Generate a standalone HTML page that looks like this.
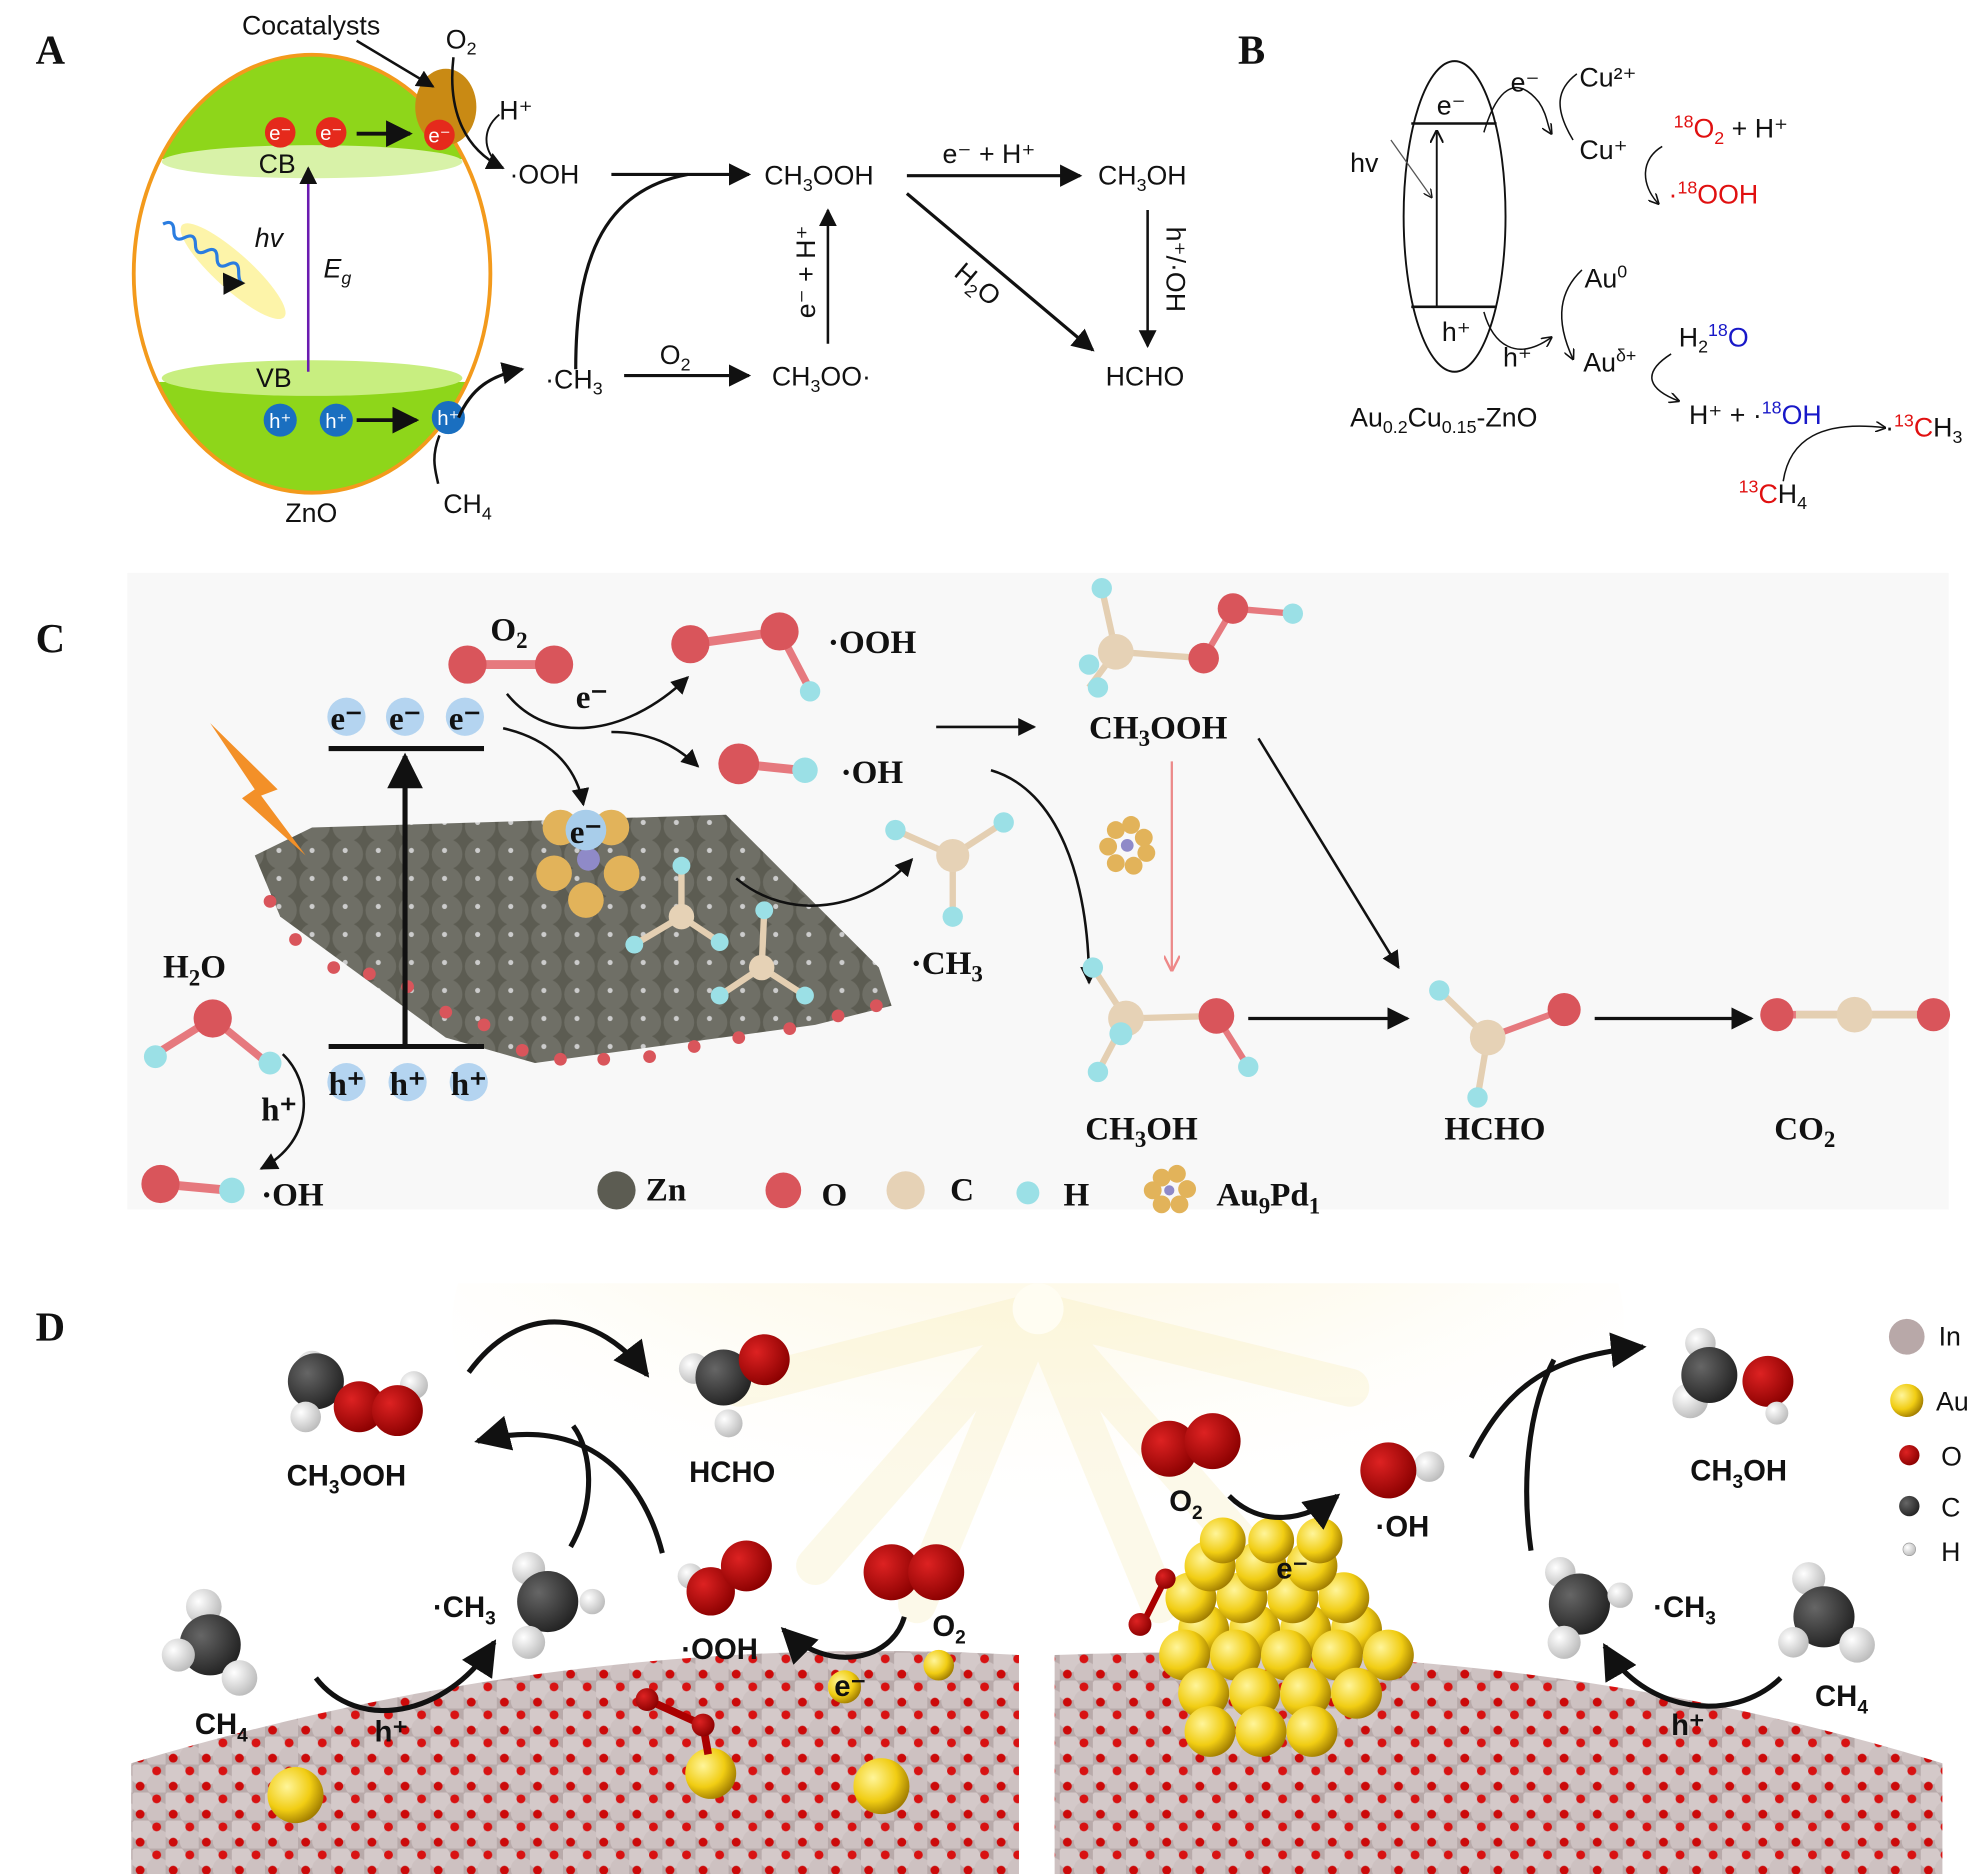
<!DOCTYPE html>
<html><head><meta charset="utf-8"><style>
html,body{margin:0;padding:0;background:#fff}
svg{display:block}
.s{font-family:"Liberation Sans",sans-serif;font-size:21px;fill:#111}
.r{font-family:"Liberation Serif",serif;font-weight:bold;font-size:26px;fill:#111}
.b{font-family:"Liberation Sans",sans-serif;font-weight:bold;font-size:23px;fill:#111}
.L{font-family:"Liberation Serif",serif;font-weight:bold;font-size:32px;fill:#111}
</style></head><body>
<svg width="1987" height="1874" viewBox="0 0 1560 1472" preserveAspectRatio="none" xmlns="http://www.w3.org/2000/svg">
<defs>
<marker id="ah" viewBox="0 0 10 10" refX="9" refY="5" markerWidth="7" markerHeight="7" orient="auto"><path d="M0,0L10,5L0,10z" fill="#111"/></marker>
<marker id="ao" viewBox="0 0 10 10" refX="9" refY="5" markerWidth="7" markerHeight="7" orient="auto"><path d="M0,0L10,5L0,10" fill="none" stroke="#111" stroke-width="1.5"/></marker>
<marker id="ap" viewBox="0 0 10 10" refX="9" refY="5" markerWidth="7" markerHeight="7" orient="auto"><path d="M0,0L10,5L0,10" fill="none" stroke="#e88" stroke-width="1.5"/></marker>
<clipPath id="ell"><ellipse cx="245" cy="215" rx="140" ry="172"/></clipPath>
<clipPath id="dclip"><rect x="0" y="1008" width="1560" height="470"/></clipPath>
<pattern id="zn" width="26" height="22" patternUnits="userSpaceOnUse"><rect width="26" height="22" fill="#5c5c52"/><circle cx="13" cy="11" r="12" fill="#6f6f66"/><circle cx="11" cy="8" r="2" fill="#ccc"/></pattern>
<pattern id="surf" width="26" height="22" patternUnits="userSpaceOnUse"><rect width="26" height="22" fill="#b8aaaa"/><circle cx="7" cy="7" r="9" fill="#d4c9c9"/><circle cx="20" cy="16" r="9" fill="#cdc1c1"/><circle cx="19" cy="5" r="3.5" fill="#d81212"/><circle cx="6" cy="17" r="3.5" fill="#cc0a0a"/></pattern>
<radialGradient id="sun" cx="0.5" cy="0.15" r="0.7"><stop offset="0" stop-color="#fff"/><stop offset="0.15" stop-color="#fcf4d2"/><stop offset="0.6" stop-color="#fdf8e6" stop-opacity="0.6"/><stop offset="1" stop-color="#fff" stop-opacity="0"/></radialGradient>
<radialGradient id="au" cx="0.35" cy="0.35" r="0.7"><stop offset="0" stop-color="#fff59a"/><stop offset="0.6" stop-color="#f1cd13"/><stop offset="1" stop-color="#a07c00"/></radialGradient>
<radialGradient id="or" cx="0.35" cy="0.35" r="0.7"><stop offset="0" stop-color="#d22"/><stop offset="1" stop-color="#8a0000"/></radialGradient>
<radialGradient id="cr" cx="0.35" cy="0.35" r="0.7"><stop offset="0" stop-color="#666"/><stop offset="1" stop-color="#222"/></radialGradient>
<radialGradient id="hr" cx="0.35" cy="0.35" r="0.7"><stop offset="0" stop-color="#fff"/><stop offset="1" stop-color="#bbb"/></radialGradient>
</defs>

<!-- ===== A ===== -->
<text x="28" y="50" class="L">A</text>
<g clip-path="url(#ell)">
<rect x="100" y="40" width="300" height="85" fill="#8ed61a"/>
<ellipse cx="245" cy="127" rx="118" ry="13" fill="#d8f2a8"/>
<rect x="100" y="300" width="300" height="100" fill="#8ed61a"/>
<ellipse cx="245" cy="297" rx="118" ry="14" fill="#c8ee80"/>
</g>
<ellipse cx="245" cy="215" rx="140" ry="172" fill="none" stroke="#f39a1c" stroke-width="3"/>
<ellipse cx="350" cy="84" rx="24" ry="30" fill="#c98a14"/>
<g font-family="Liberation Sans" font-size="16" fill="#fff" text-anchor="middle">
<circle cx="220" cy="104" r="12" fill="#e52a1c"/><text x="220" y="110">e⁻</text>
<circle cx="260" cy="104" r="12" fill="#e52a1c"/><text x="260" y="110">e⁻</text>
<circle cx="345" cy="106" r="12" fill="#e52a1c"/><text x="345" y="112">e⁻</text>
<circle cx="220" cy="330" r="13" fill="#1a6fc0"/><text x="220" y="336">h⁺</text>
<circle cx="264" cy="330" r="13" fill="#1a6fc0"/><text x="264" y="336">h⁺</text>
<circle cx="352" cy="328" r="13" fill="#1a6fc0"/><text x="352" y="334">h⁺</text>
</g>
<line x1="280" y1="105" x2="322" y2="105" stroke="#111" stroke-width="3" marker-end="url(#ah)"/>
<line x1="280" y1="330" x2="327" y2="330" stroke="#111" stroke-width="3" marker-end="url(#ah)"/>
<line x1="242" y1="292" x2="242" y2="132" stroke="#6a1bb0" stroke-width="2" marker-end="url(#ah)"/>
<text x="203" y="136" class="s">CB</text><text x="201" y="304" class="s">VB</text>
<text x="200" y="194" class="s" font-style="italic">hv</text>
<text x="254" y="218" class="s" font-style="italic">E<tspan font-size="14" dy="5">g</tspan></text>
<ellipse cx="183" cy="213" rx="14" ry="54" transform="rotate(-48 183 213)" fill="#fdf3a0" opacity="0.9"/>
<path d="M128,176 q5,-8 10,0 t10,0 t10,0 t10,0 t10,0 t10,0 t10,0 t8,6" transform="rotate(32 128 176)" fill="none" stroke="#2a7de0" stroke-width="2.5" marker-end="url(#ah)"/>
<text x="190" y="27" class="s">Cocatalysts</text>
<line x1="280" y1="32" x2="340" y2="68" stroke="#111" stroke-width="2" marker-end="url(#ah)"/>
<text x="350" y="38" class="s">O<tspan font-size="14" dy="5">2</tspan></text>
<path d="M356,45 C352,80 360,115 395,132" fill="none" stroke="#111" stroke-width="2" marker-end="url(#ah)"/>
<text x="392" y="94" class="s">H⁺</text>
<path d="M392,90 C380,100 378,115 390,128" fill="none" stroke="#111" stroke-width="1.5"/>
<text x="400" y="144" class="s">·OOH</text>
<line x1="480" y1="137" x2="588" y2="137" stroke="#111" stroke-width="2.5" marker-end="url(#ah)"/>
<path d="M452,290 C452,210 470,150 540,137" fill="none" stroke="#111" stroke-width="2.5"/>
<text x="600" y="145" class="s">CH<tspan font-size="14" dy="5">3</tspan><tspan dy="-5">OOH</tspan></text>
<text x="740" y="128" class="s">e⁻ + H⁺</text>
<line x1="712" y1="138" x2="848" y2="138" stroke="#111" stroke-width="2.5" marker-end="url(#ah)"/>
<text x="862" y="145" class="s">CH<tspan font-size="14" dy="5">3</tspan><tspan dy="-5">OH</tspan></text>
<line x1="712" y1="152" x2="858" y2="275" stroke="#111" stroke-width="2.5" marker-end="url(#ah)"/>
<text x="0" y="0" class="s" transform="translate(748,216) rotate(40)">H<tspan font-size="14" dy="5">2</tspan><tspan dy="-5">O</tspan></text>
<line x1="901" y1="165" x2="901" y2="272" stroke="#111" stroke-width="2" marker-end="url(#ah)"/>
<text x="0" y="0" class="s" transform="translate(916,178) rotate(90)">h⁺/·OH</text>
<line x1="650" y1="270" x2="650" y2="165" stroke="#111" stroke-width="2" marker-end="url(#ah)"/>
<text x="0" y="0" class="s" transform="translate(640,250) rotate(-90)">e⁻ + H⁺</text>
<path d="M360,328 C370,305 385,295 410,290" fill="none" stroke="#111" stroke-width="2.5" marker-end="url(#ah)"/>
<path d="M345,342 C338,360 342,370 344,380" fill="none" stroke="#111" stroke-width="2"/>
<text x="428" y="305" class="s">·CH<tspan font-size="14" dy="5">3</tspan></text>
<text x="518" y="286" class="s">O<tspan font-size="14" dy="5">2</tspan></text>
<line x1="490" y1="295" x2="588" y2="295" stroke="#111" stroke-width="2.5" marker-end="url(#ah)"/>
<text x="606" y="303" class="s">CH<tspan font-size="14" dy="5">3</tspan><tspan dy="-5">OO·</tspan></text>
<text x="868" y="303" class="s">HCHO</text>
<text x="224" y="410" class="s">ZnO</text>
<text x="348" y="403" class="s">CH<tspan font-size="14" dy="5">4</tspan></text>

<!-- ===== B ===== -->
<text x="972" y="50" class="L">B</text>
<ellipse cx="1142" cy="170" rx="40" ry="122" fill="none" stroke="#111" stroke-width="1.5"/>
<line x1="1108" y1="97" x2="1175" y2="97" stroke="#111" stroke-width="2"/>
<line x1="1108" y1="241" x2="1175" y2="241" stroke="#111" stroke-width="2"/>
<line x1="1128" y1="240" x2="1128" y2="103" stroke="#111" stroke-width="1.5" marker-end="url(#ao)"/>
<line x1="1092" y1="110" x2="1124" y2="155" stroke="#555" stroke-width="1" marker-end="url(#ao)"/>
<text x="1060" y="135" class="s">hv</text>
<text x="1128" y="90" class="s">e⁻</text><text x="1132" y="268" class="s">h⁺</text>
<text x="1186" y="72" class="s">e⁻</text>
<path d="M1165,104 C1175,70 1190,58 1208,80 C1215,90 1215,100 1218,105" fill="none" stroke="#111" stroke-width="1.2" marker-end="url(#ao)"/>
<path d="M1238,58 C1222,70 1220,85 1235,110" fill="none" stroke="#111" stroke-width="1.2"/>
<text x="1240" y="68" class="s">Cu²⁺</text>
<text x="1240" y="125" class="s">Cu⁺</text>
<text x="1314" y="108" class="s"><tspan fill="#e01010"><tspan font-size="14" dy="-8">18</tspan><tspan dy="8">O</tspan><tspan font-size="14" dy="5">2</tspan></tspan><tspan dy="-5"> + H⁺</tspan></text>
<path d="M1305,115 C1288,125 1288,145 1302,160" fill="none" stroke="#111" stroke-width="1.2" marker-end="url(#ao)"/>
<text x="1310" y="160" class="s" fill="#e01010"><tspan fill="#e01010">·<tspan font-size="14" dy="-8">18</tspan><tspan dy="8">OOH</tspan></tspan></text>
<text x="1244" y="226" class="s">Au<tspan font-size="14" dy="-8">0</tspan></text>
<path d="M1242,212 C1225,228 1220,250 1235,282" fill="none" stroke="#111" stroke-width="1.2" marker-end="url(#ao)"/>
<path d="M1165,245 C1172,270 1190,285 1218,265" fill="none" stroke="#111" stroke-width="1.2" marker-end="url(#ao)"/>
<text x="1180" y="288" class="s">h⁺</text>
<text x="1243" y="292" class="s">Au<tspan font-size="14" dy="-8">δ+</tspan></text>
<text x="1318" y="272" class="s">H<tspan font-size="14" dy="5">2</tspan><tspan fill="#1818c8"><tspan font-size="14" dy="-13">18</tspan><tspan dy="8">O</tspan></tspan></text>
<path d="M1312,278 C1290,292 1292,305 1318,315" fill="none" stroke="#111" stroke-width="1.2" marker-end="url(#ao)"/>
<text x="1326" y="333" class="s">H⁺ + ·<tspan fill="#1818c8"><tspan font-size="14" dy="-8">18</tspan><tspan dy="8">OH</tspan></tspan></text>
<path d="M1400,378 C1405,345 1430,330 1480,336" fill="none" stroke="#111" stroke-width="1.2" marker-end="url(#ao)"/>
<text x="1480" y="343" class="s">·<tspan fill="#e01010"><tspan font-size="14" dy="-8">13</tspan><tspan dy="8">C</tspan></tspan>H<tspan font-size="14" dy="5">3</tspan></text>
<text x="1365" y="395" class="s"><tspan fill="#e01010"><tspan font-size="14" dy="-8">13</tspan><tspan dy="8">C</tspan></tspan>H<tspan font-size="14" dy="5">4</tspan></text>
<text x="1060" y="335" class="s">Au<tspan font-size="14" dy="5">0.2</tspan><tspan dy="-5">Cu</tspan><tspan font-size="14" dy="5">0.15</tspan><tspan dy="-5">-ZnO</tspan></text>

<!-- ===== C ===== -->
<rect x="100" y="450" width="1430" height="500" fill="#f8f8f8"/>
<text x="28" y="512" class="L">C</text>
<polygon points="200,672 245,650 570,640 690,760 700,790 640,805 420,835 350,815 220,720" fill="url(#zn)"/>
<g fill="#d9555b"><circle cx="212" cy="708" r="5"/><circle cx="232" cy="738" r="5"/><circle cx="262" cy="760" r="5"/><circle cx="290" cy="765" r="5"/><circle cx="320" cy="775" r="5"/><circle cx="350" cy="795" r="5"/><circle cx="380" cy="805" r="5"/><circle cx="410" cy="825" r="5"/><circle cx="440" cy="832" r="5"/><circle cx="474" cy="832" r="5"/><circle cx="510" cy="830" r="5"/><circle cx="545" cy="822" r="5"/><circle cx="580" cy="815" r="5"/><circle cx="620" cy="808" r="5"/><circle cx="658" cy="798" r="5"/><circle cx="688" cy="790" r="5"/></g>
<polygon points="165,568 218,620 205,625 240,672 190,627 200,620" fill="#f39028"/>
<circle cx="440" cy="650" r="14" fill="#e2b35a"/><circle cx="480" cy="650" r="14" fill="#e2b35a"/><circle cx="435" cy="686" r="14" fill="#e2b35a"/><circle cx="488" cy="686" r="14" fill="#e2b35a"/><circle cx="460" cy="707" r="14" fill="#e2b35a"/><circle cx="462" cy="675" r="9" fill="#8f8ac8"/>
<circle cx="460" cy="652" r="16" fill="#a8cdea"/><text x="460" y="662" class="r" text-anchor="middle">e⁻</text>
<g stroke="#e4cfb2" stroke-width="5"><line x1="535" y1="720" x2="535" y2="680"/><line x1="535" y1="720" x2="498" y2="742"/><line x1="535" y1="720" x2="565" y2="740"/><line x1="598" y1="760" x2="600" y2="715"/><line x1="598" y1="760" x2="565" y2="782"/><line x1="598" y1="760" x2="632" y2="782"/></g>
<g fill="#9be0e6"><circle cx="535" cy="680" r="7"/><circle cx="498" cy="742" r="7"/><circle cx="565" cy="740" r="7"/><circle cx="600" cy="715" r="7"/><circle cx="565" cy="782" r="7"/><circle cx="632" cy="782" r="7"/></g>
<circle cx="535" cy="720" r="10" fill="#e6d2b6"/><circle cx="598" cy="760" r="10" fill="#e6d2b6"/>
<line x1="258" y1="588" x2="380" y2="588" stroke="#111" stroke-width="4"/>
<line x1="258" y1="822" x2="380" y2="822" stroke="#111" stroke-width="4"/>
<line x1="318" y1="820" x2="318" y2="594" stroke="#111" stroke-width="4" marker-end="url(#ah)"/>
<g fill="#b4d4f0"><circle cx="272" cy="563" r="15"/><circle cx="318" cy="563" r="15"/><circle cx="365" cy="563" r="15"/><circle cx="272" cy="850" r="15"/><circle cx="320" cy="850" r="15"/><circle cx="368" cy="850" r="15"/></g>
<text x="272" y="573" class="r" text-anchor="middle">e⁻</text><text x="318" y="573" class="r" text-anchor="middle">e⁻</text><text x="365" y="573" class="r" text-anchor="middle">e⁻</text>
<text x="272" y="860" class="r" text-anchor="middle">h⁺</text><text x="320" y="860" class="r" text-anchor="middle">h⁺</text><text x="368" y="860" class="r" text-anchor="middle">h⁺</text>
<text x="385" y="503" class="r">O<tspan font-size="18" dy="6">2</tspan></text>
<line x1="368" y1="522" x2="432" y2="522" stroke="#e6797e" stroke-width="7"/>
<circle cx="367" cy="522" r="15" fill="#d9555b"/><circle cx="435" cy="522" r="15" fill="#d9555b"/>
<path d="M398,545 C430,585 490,580 540,532" fill="none" stroke="#111" stroke-width="2" marker-end="url(#ah)"/>
<path d="M480,575 C510,575 530,585 548,602" fill="none" stroke="#111" stroke-width="2" marker-end="url(#ah)"/>
<text x="452" y="556" class="r">e⁻</text>
<path d="M395,572 C430,580 452,600 458,632" fill="none" stroke="#111" stroke-width="2" marker-end="url(#ah)"/>
<line x1="542" y1="506" x2="612" y2="496" stroke="#e6797e" stroke-width="7"/><line x1="612" y1="496" x2="635" y2="540" stroke="#e6797e" stroke-width="6"/>
<circle cx="542" cy="506" r="15" fill="#d9555b"/><circle cx="612" cy="496" r="15" fill="#d9555b"/><circle cx="636" cy="543" r="8" fill="#9be0e6"/>
<text x="650" y="513" class="r">·OOH</text>
<line x1="580" y1="600" x2="628" y2="605" stroke="#e6797e" stroke-width="7"/>
<circle cx="580" cy="600" r="16" fill="#d9555b"/><circle cx="632" cy="605" r="10" fill="#9be0e6"/>
<text x="660" y="615" class="r">·OH</text>
<line x1="735" y1="571" x2="812" y2="571" stroke="#111" stroke-width="2" marker-end="url(#ah)"/>
<path d="M578,690 C620,725 680,715 716,675" fill="none" stroke="#111" stroke-width="2" marker-end="url(#ah)"/>
<g stroke="#e4cfb2" stroke-width="5"><line x1="748" y1="672" x2="703" y2="652"/><line x1="748" y1="672" x2="788" y2="646"/><line x1="748" y1="672" x2="748" y2="718"/></g>
<circle cx="703" cy="652" r="8" fill="#9be0e6"/><circle cx="788" cy="646" r="8" fill="#9be0e6"/><circle cx="748" cy="720" r="8" fill="#9be0e6"/><circle cx="748" cy="672" r="13" fill="#e6d2b6"/>
<text x="715" y="765" class="r">·CH<tspan font-size="18" dy="6">3</tspan></text>
<path d="M778,605 C830,620 855,690 855,772" fill="none" stroke="#111" stroke-width="2" marker-end="url(#ah)"/>
<g stroke="#e4cfb2" stroke-width="5"><line x1="876" y1="512" x2="865" y2="462"/><line x1="876" y1="512" x2="855" y2="540"/><line x1="876" y1="512" x2="945" y2="517"/></g>
<line x1="945" y1="517" x2="968" y2="478" stroke="#e6797e" stroke-width="5"/><line x1="968" y1="478" x2="1015" y2="482" stroke="#e6797e" stroke-width="5"/>
<circle cx="865" cy="462" r="8" fill="#9be0e6"/><circle cx="855" cy="522" r="8" fill="#9be0e6"/><circle cx="862" cy="540" r="8" fill="#9be0e6"/>
<circle cx="876" cy="512" r="14" fill="#e6d2b6"/><circle cx="945" cy="517" r="12" fill="#d9555b"/><circle cx="968" cy="478" r="12" fill="#d9555b"/><circle cx="1015" cy="482" r="8" fill="#9be0e6"/>
<text x="855" y="580" class="r">CH<tspan font-size="18" dy="6">3</tspan><tspan dy="-6">OOH</tspan></text>
<line x1="920" y1="598" x2="920" y2="762" stroke="#ec8a8a" stroke-width="1.8" marker-end="url(#ap)"/>
<g fill="#e2b35a"><circle cx="876" cy="652" r="7"/><circle cx="888" cy="648" r="7"/><circle cx="898" cy="658" r="7"/><circle cx="900" cy="670" r="7"/><circle cx="890" cy="680" r="7"/><circle cx="876" cy="678" r="7"/><circle cx="870" cy="665" r="7"/></g><circle cx="885" cy="664" r="5" fill="#8f8ac8"/>
<line x1="988" y1="580" x2="1098" y2="760" stroke="#111" stroke-width="2" marker-end="url(#ah)"/>
<g stroke="#e4cfb2" stroke-width="5"><line x1="884" y1="800" x2="858" y2="760"/><line x1="884" y1="800" x2="862" y2="842"/><line x1="884" y1="800" x2="955" y2="798"/></g>
<line x1="955" y1="798" x2="980" y2="838" stroke="#e6797e" stroke-width="5"/>
<circle cx="858" cy="760" r="8" fill="#9be0e6"/><circle cx="862" cy="842" r="8" fill="#9be0e6"/><circle cx="884" cy="800" r="14" fill="#e6d2b6"/><circle cx="880" cy="812" r="9" fill="#9be0e6"/><circle cx="955" cy="798" r="14" fill="#d9555b"/><circle cx="980" cy="838" r="8" fill="#9be0e6"/>
<text x="852" y="895" class="r">CH<tspan font-size="18" dy="6">3</tspan><tspan dy="-6">OH</tspan></text>
<line x1="980" y1="800" x2="1105" y2="800" stroke="#111" stroke-width="2.5" marker-end="url(#ah)"/>
<g stroke="#e4cfb2" stroke-width="5"><line x1="1168" y1="815" x2="1130" y2="778"/><line x1="1168" y1="815" x2="1160" y2="862"/></g><line x1="1168" y1="815" x2="1228" y2="793" stroke="#e6797e" stroke-width="5"/>
<circle cx="1130" cy="778" r="8" fill="#9be0e6"/><circle cx="1160" cy="862" r="8" fill="#9be0e6"/><circle cx="1168" cy="815" r="14" fill="#e6d2b6"/><circle cx="1228" cy="793" r="13" fill="#d9555b"/>
<text x="1134" y="895" class="r">HCHO</text>
<line x1="1252" y1="800" x2="1375" y2="800" stroke="#111" stroke-width="2.5" marker-end="url(#ah)"/>
<line x1="1395" y1="797" x2="1518" y2="797" stroke="#e6797e" stroke-width="6"/><line x1="1410" y1="797" x2="1505" y2="797" stroke="#e4cfb2" stroke-width="6"/>
<circle cx="1395" cy="797" r="13" fill="#d9555b"/><circle cx="1456" cy="797" r="14" fill="#e6d2b6"/><circle cx="1518" cy="797" r="13" fill="#d9555b"/>
<text x="1393" y="895" class="r">CO<tspan font-size="18" dy="6">2</tspan></text>
<text x="128" y="768" class="r">H<tspan font-size="18" dy="6">2</tspan><tspan dy="-6">O</tspan></text>
<g stroke="#e6797e" stroke-width="6"><line x1="167" y1="800" x2="122" y2="828"/><line x1="167" y1="800" x2="210" y2="835"/></g>
<circle cx="167" cy="800" r="15" fill="#d9555b"/><circle cx="122" cy="830" r="9" fill="#9be0e6"/><circle cx="212" cy="835" r="9" fill="#9be0e6"/>
<path d="M222,828 C245,850 248,895 205,918" fill="none" stroke="#111" stroke-width="2" marker-end="url(#ah)"/>
<text x="205" y="880" class="r">h⁺</text>
<line x1="126" y1="930" x2="180" y2="935" stroke="#e6797e" stroke-width="7"/>
<circle cx="126" cy="930" r="15" fill="#d9555b"/><circle cx="182" cy="935" r="10" fill="#9be0e6"/>
<text x="205" y="947" class="r">·OH</text>
<circle cx="484" cy="935" r="15" fill="#5c5c52"/><text x="507" y="943" class="r">Zn</text>
<circle cx="615" cy="935" r="14" fill="#d9555b"/><text x="645" y="947" class="r">O</text>
<circle cx="711" cy="935" r="15" fill="#e6d2b6"/><text x="746" y="943" class="r">C</text>
<circle cx="807" cy="937" r="9" fill="#9be0e6"/><text x="835" y="947" class="r">H</text>
<g fill="#e2b35a"><circle cx="912" cy="925" r="7"/><circle cx="924" cy="922" r="7"/><circle cx="932" cy="934" r="7"/><circle cx="926" cy="946" r="7"/><circle cx="912" cy="946" r="7"/><circle cx="905" cy="935" r="7"/></g><circle cx="918" cy="935" r="4" fill="#8f8ac8"/>
<text x="955" y="947" class="r">Au<tspan font-size="18" dy="6">9</tspan><tspan dy="-6">Pd</tspan><tspan font-size="18" dy="6">1</tspan></text>

<!-- ===== D ===== -->
<g clip-path="url(#dclip)">
<ellipse cx="815" cy="1040" rx="460" ry="230" fill="url(#sun)" opacity="0.8"/>
<g stroke="#f6e6a0" stroke-width="30" opacity="0.22" stroke-linecap="round"><line x1="815" y1="1030" x2="580" y2="1090"/><line x1="815" y1="1030" x2="640" y2="1230"/><line x1="815" y1="1030" x2="1060" y2="1090"/><line x1="815" y1="1030" x2="990" y2="1230"/><line x1="815" y1="1030" x2="720" y2="1260"/><line x1="815" y1="1030" x2="910" y2="1260"/></g>
<circle cx="815" cy="1028" r="20" fill="#fffdf2"/>
</g>
<text x="28" y="1053" class="L">D</text>
<path d="M103,1385 Q450,1280 800,1300 L800,1478 L103,1478z" fill="url(#surf)"/>
<path d="M828,1300 Q1200,1285 1525,1385 L1525,1478 L828,1478z" fill="url(#surf)"/>
<circle cx="232" cy="1410" r="22" fill="url(#au)"/><circle cx="558" cy="1393" r="20" fill="url(#au)"/><circle cx="692" cy="1403" r="22" fill="url(#au)"/><circle cx="663" cy="1325" r="13" fill="url(#au)"/><circle cx="737" cy="1308" r="12" fill="url(#au)"/>
<text x="655" y="1332" class="b" font-size="18">e⁻</text>
<line x1="508" y1="1335" x2="552" y2="1355" stroke="#a00" stroke-width="6"/><line x1="552" y1="1355" x2="556" y2="1378" stroke="#a00" stroke-width="6"/><circle cx="508" cy="1335" r="9" fill="url(#or)"/><circle cx="552" cy="1355" r="9" fill="url(#or)"/>
<g fill="url(#au)">
<circle cx="945" cy="1280" r="20"/><circle cx="985" cy="1280" r="20"/><circle cx="1025" cy="1280" r="20"/><circle cx="1065" cy="1280" r="20"/>
<circle cx="930" cy="1300" r="20"/><circle cx="970" cy="1300" r="20"/><circle cx="1010" cy="1300" r="20"/><circle cx="1050" cy="1300" r="20"/><circle cx="1090" cy="1300" r="20"/>
<circle cx="935" cy="1255" r="20"/><circle cx="975" cy="1255" r="20"/><circle cx="1015" cy="1255" r="20"/><circle cx="1055" cy="1255" r="20"/>
<circle cx="950" cy="1230" r="20"/><circle cx="990" cy="1230" r="20"/><circle cx="1030" cy="1230" r="20"/>
<circle cx="960" cy="1210" r="18"/><circle cx="998" cy="1210" r="18"/><circle cx="1036" cy="1210" r="18"/>
<circle cx="945" cy="1330" r="20"/><circle cx="985" cy="1330" r="20"/><circle cx="1025" cy="1330" r="20"/><circle cx="1065" cy="1330" r="20"/>
<circle cx="950" cy="1360" r="20"/><circle cx="990" cy="1360" r="20"/><circle cx="1030" cy="1360" r="20"/>
</g>
<text x="1002" y="1240" class="b" font-size="20">e⁻</text>
<line x1="915" y1="1240" x2="898" y2="1274" stroke="#a00" stroke-width="5"/><circle cx="915" cy="1240" r="8" fill="url(#or)"/><circle cx="895" cy="1276" r="9" fill="url(#or)"/>
<circle cx="245" cy="1073" r="12" fill="url(#hr)"/><circle cx="248" cy="1085" r="22" fill="url(#cr)"/><circle cx="240" cy="1113" r="12" fill="url(#hr)"/><circle cx="325" cy="1088" r="11" fill="url(#hr)"/><circle cx="282" cy="1105" r="20" fill="url(#or)"/><circle cx="312" cy="1108" r="20" fill="url(#or)"/>
<text x="225" y="1167" class="b">CH<tspan font-size="15" dy="6">3</tspan><tspan dy="-6">OOH</tspan></text>
<path d="M368,1078 C410,1020 470,1030 508,1080" fill="none" stroke="#111" stroke-width="4" marker-end="url(#ah)"/>
<circle cx="545" cy="1075" r="12" fill="url(#hr)"/><circle cx="572" cy="1118" r="11" fill="url(#hr)"/><circle cx="568" cy="1082" r="22" fill="url(#cr)"/><circle cx="600" cy="1068" r="20" fill="url(#or)"/>
<text x="541" y="1164" class="b">HCHO</text>
<path d="M520,1220 C505,1160 460,1110 375,1132" fill="none" stroke="#111" stroke-width="4" marker-end="url(#ah)"/>
<path d="M448,1215 C468,1180 465,1140 450,1120" fill="none" stroke="#111" stroke-width="4"/>
<circle cx="160" cy="1262" r="14" fill="url(#hr)"/><circle cx="165" cy="1292" r="24" fill="url(#cr)"/><circle cx="140" cy="1300" r="13" fill="url(#hr)"/><circle cx="188" cy="1318" r="14" fill="url(#hr)"/>
<text x="153" y="1362" class="b">CH<tspan font-size="15" dy="6">4</tspan></text>
<path d="M248,1318 C280,1360 350,1350 388,1290" fill="none" stroke="#111" stroke-width="4" marker-end="url(#ah)"/>
<text x="294" y="1368" class="b" font-size="20">h⁺</text>
<circle cx="415" cy="1232" r="13" fill="url(#hr)"/><circle cx="430" cy="1258" r="24" fill="url(#cr)"/><circle cx="465" cy="1258" r="10" fill="url(#hr)"/><circle cx="415" cy="1290" r="13" fill="url(#hr)"/>
<text x="340" y="1270" class="b">·CH<tspan font-size="15" dy="6">3</tspan></text>
<circle cx="542" cy="1238" r="10" fill="url(#hr)"/><circle cx="558" cy="1250" r="19" fill="url(#or)"/><circle cx="586" cy="1230" r="20" fill="url(#or)"/>
<text x="535" y="1303" class="b">·OOH</text>
<circle cx="700" cy="1235" r="22" fill="url(#or)"/><circle cx="735" cy="1235" r="22" fill="url(#or)"/>
<text x="732" y="1285" class="b">O<tspan font-size="15" dy="6">2</tspan></text>
<path d="M710,1270 C700,1305 650,1315 615,1280" fill="none" stroke="#111" stroke-width="4" marker-end="url(#ah)"/>
<circle cx="918" cy="1138" r="22" fill="url(#or)"/><circle cx="952" cy="1132" r="22" fill="url(#or)"/>
<text x="918" y="1187" class="b">O<tspan font-size="15" dy="6">2</tspan></text>
<path d="M965,1175 C990,1200 1025,1195 1050,1175" fill="none" stroke="#111" stroke-width="4" marker-end="url(#ah)"/>
<circle cx="1122" cy="1152" r="12" fill="url(#hr)"/><circle cx="1090" cy="1155" r="22" fill="url(#or)"/>
<text x="1080" y="1207" class="b">·OH</text>
<path d="M1155,1145 C1185,1085 1220,1065 1290,1058" fill="none" stroke="#111" stroke-width="4" marker-end="url(#ah)"/>
<path d="M1202,1218 C1195,1170 1198,1110 1220,1068" fill="none" stroke="#111" stroke-width="4"/>
<circle cx="1335" cy="1055" r="12" fill="url(#hr)"/><circle cx="1327" cy="1100" r="14" fill="url(#hr)"/><circle cx="1342" cy="1080" r="22" fill="url(#cr)"/><circle cx="1388" cy="1085" r="20" fill="url(#or)"/><circle cx="1395" cy="1110" r="9" fill="url(#hr)"/>
<text x="1327" y="1163" class="b">CH<tspan font-size="15" dy="6">3</tspan><tspan dy="-6">OH</tspan></text>
<circle cx="1225" cy="1235" r="12" fill="url(#hr)"/><circle cx="1240" cy="1260" r="24" fill="url(#cr)"/><circle cx="1272" cy="1253" r="10" fill="url(#hr)"/><circle cx="1228" cy="1290" r="13" fill="url(#hr)"/>
<text x="1298" y="1270" class="b">·CH<tspan font-size="15" dy="6">3</tspan></text>
<circle cx="1420" cy="1240" r="13" fill="url(#hr)"/><circle cx="1432" cy="1270" r="24" fill="url(#cr)"/><circle cx="1408" cy="1290" r="12" fill="url(#hr)"/><circle cx="1458" cy="1292" r="14" fill="url(#hr)"/>
<text x="1425" y="1340" class="b">CH<tspan font-size="15" dy="6">4</tspan></text>
<path d="M1398,1318 C1360,1355 1290,1345 1260,1293" fill="none" stroke="#111" stroke-width="4" marker-end="url(#ah)"/>
<text x="1312" y="1363" class="b" font-size="20">h⁺</text>
<circle cx="1497" cy="1050" r="14" fill="#b8a8a8"/><text x="1522" y="1057" class="s" font-size="23">In</text>
<circle cx="1497" cy="1100" r="13" fill="url(#au)"/><text x="1520" y="1108" class="s" font-size="23">Au</text>
<circle cx="1499" cy="1143" r="8" fill="url(#or)"/><text x="1524" y="1151" class="s" font-size="23">O</text>
<circle cx="1499" cy="1183" r="8" fill="url(#cr)"/><text x="1524" y="1191" class="s" font-size="23">C</text>
<circle cx="1499" cy="1217" r="5" fill="url(#hr)" stroke="#999" stroke-width="0.5"/><text x="1524" y="1226" class="s" font-size="23">H</text>
</svg>
</body></html>
